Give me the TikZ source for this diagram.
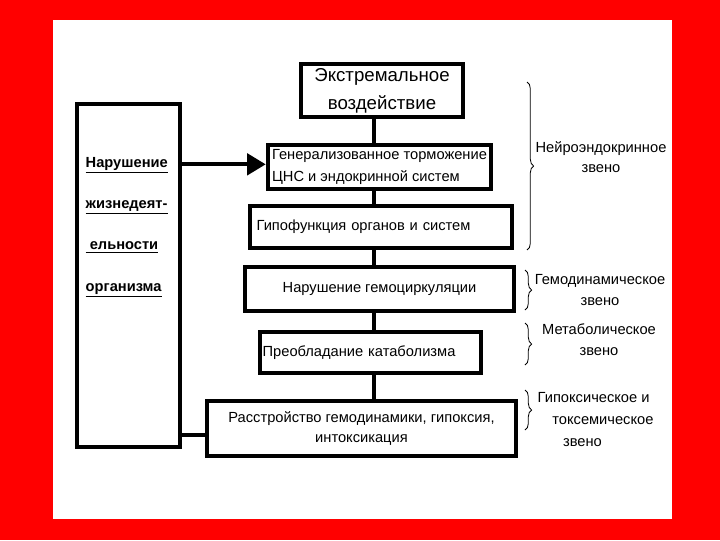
\documentclass[tikz,border=0pt]{standalone}
\usepackage{fontspec}
\setmainfont{Liberation Sans}
\usetikzlibrary{arrows.meta,decorations.pathreplacing}

\begin{document}
\begin{tikzpicture}[
    x=0.75pt, y=-0.75pt,
    box/.style={draw, line width=3.4pt, inner sep=2pt, align=center, font=\fontsize{11}{15}\selectfont},
    conn/.style={line width=3pt},
    brc/.style={decorate, decoration={brace, amplitude=5pt}, line width=0.6pt},
    lbl/.style={align=center, font=\fontsize{11}{15.5}\selectfont}
]

% Фон
\fill[red] (0,0) rectangle (720,540);
\fill[white] (53,20) rectangle (672,519);

% Блоки
\node[box, minimum width=121.5pt, minimum height=39.75pt, font=\fontsize{14}{21}\selectfont] (ext) at (382,90.5) {Экстремальное\\воздействие};

\node[box, minimum width=167.25pt, minimum height=33pt, align=left, font=\fontsize{11}{16.5}\selectfont] (cns) at (379.5,167) {Генерализованное торможение\\ЦНС и эндокринной систем};

\node[box, minimum width=196.5pt, minimum height=31.5pt, inner xsep=5pt, text width=186.5pt, align=left] (gipo) at (381,227) {Гипофункция органов и систем};

\node[box, minimum width=201.75pt, minimum height=33pt] (hemo) at (379.5,289) {Нарушение гемоциркуляции};

\node[box, minimum width=165.75pt, minimum height=30.75pt, inner xsep=2pt, text width=161.75pt, align=left] (kata) at (370.5,352.5) {Преобладание катаболизма};

\node[box, minimum width=231.75pt, minimum height=41.25pt] (rass) at (361.5,428.5) {Расстройство гемодинамики, гипоксия,\\интоксикация};

\node[box, minimum width=77.25pt, minimum height=257.25pt] (life) at (128.5,275.5) {};
\node[anchor=west, align=left, font=\fontsize{11}{31}\selectfont\bfseries] (lifetxt) at (81,227) {\underline{Нарушение}\\\underline{жизнедеят-}\\\underline{\ ельности}\\\underline{организма}};

% Связи
\coordinate (sp) at (374,0);
\draw[conn] (ext.south -| sp) -- (cns.north -| sp);
\draw[conn] (cns.south -| sp) -- (gipo.north -| sp);
\draw[conn] (gipo.south -| sp) -- (hemo.north -| sp);
\draw[conn] (hemo.south -| sp) -- (kata.north -| sp);
\draw[conn] (kata.south -| sp) -- (rass.north -| sp);
\draw[conn, -{Triangle[length=14pt,width=16pt]}] ([yshift=2pt]cns.west -| life.east) -- ([yshift=2pt]cns.west);
\draw[conn] ([yshift=-5pt]rass.west -| life.east) -- ([yshift=-5pt]rass.west);

% Звенья
\draw[brc] (527,82) -- (527,250);
\draw[brc] (525,270) -- (525,310);
\draw[brc] (525,323) -- (525,365);
\draw[brc] (525,390) -- (525,430);

\node[lbl] (neuro) at (601,157) {Нейроэндокринное\\звено};
\node[lbl] (gemo) at (600,290) {Гемодинамическое\\звено};
\node[lbl] (meta) at (599,340) {Метаболическое\\звено};
\node[anchor=west, align=left, font=\fontsize{11}{16.5}\selectfont] (toks) at (533,420) {Гипоксическое и\\\hspace*{11pt}токсемическое\\\hspace*{19pt}звено};

\end{tikzpicture}
\end{document}
